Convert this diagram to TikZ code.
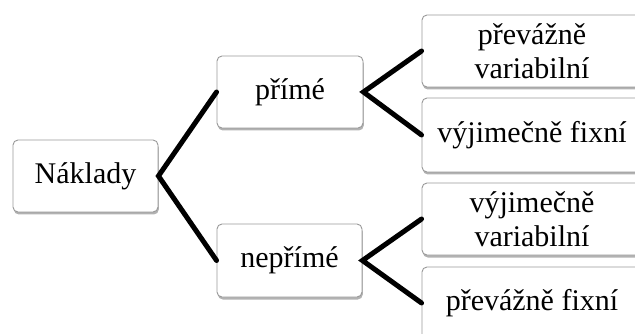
\documentclass[tikz,border=0pt]{standalone}
\usepackage{fontspec}
\setmainfont{Liberation Serif}
\usetikzlibrary{shadows}
\newcommand{\rtxt}[1]{\hspace*{-16pt}\parbox{210pt}{\centering #1}}
\begin{document}
\begin{tikzpicture}[x=1pt,y=-1pt,
  box/.style={draw=black!40, line width=0.9pt, fill=white, rounded corners=5pt,
    align=center, inner sep=0pt, font=\fontsize{30}{34}\selectfont,
    drop shadow={shadow xshift=0.8pt, shadow yshift=-2.5pt, opacity=0.3, fill=black}},
  rbox/.style={box, minimum width=236pt},
  conn/.style={line width=5pt, line cap=round, line join=miter}]
\clip (0,0) rectangle (635,334);
\fill[white] (0,0) rectangle (635,334);
\node[box, minimum width=145pt, minimum height=72pt] (nak) at (85.5,176) {Náklady};
\node[box, minimum width=146pt, minimum height=72pt] (pri) at (290,92) {přímé};
\node[box, minimum width=145pt, minimum height=73pt] (nep) at (289.5,260.5) {nepřímé};
\node[rbox, minimum height=72pt] (r1) at (540,51) {\rtxt{převážně\\variabilní}};
\node[rbox, minimum height=74pt] (r2) at (540,135) {\rtxt{výjimečně fixní}};
\node[rbox, minimum height=72pt] (r3) at (540,219) {\rtxt{výjimečně\\variabilní}};
\node[rbox, minimum height=72pt] (r4) at (540,303) {\rtxt{převážně fixní}};
\draw[conn] (pri.west) -- (nak.east) -- (nep.west);
\draw[conn] (r1.west) -- (pri.east) -- (r2.west);
\draw[conn] (r3.west) -- (nep.east) -- (r4.west);
\end{tikzpicture}
\end{document}
